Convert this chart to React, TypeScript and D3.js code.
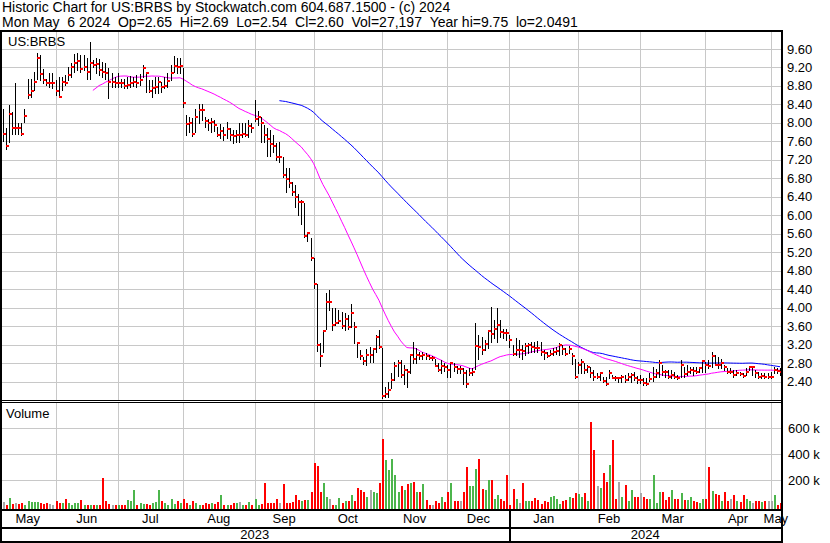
import React from "react";
import * as d3 from "d3";

const HEADER1 = "Historic Chart for US:BRBS by Stockwatch.com 604.687.1500 - (c) 2024";
const HEADER2 = "Mon May  6 2024  Op=2.65  Hi=2.69  Lo=2.54  Cl=2.60  Vol=27,197  Year hi=9.75  lo=2.0491";
const SYMBOL = "US:BRBS";
const VOLUME_TITLE = "Volume";

// daily closes, 8 May 2023 .. 6 May 2024
const close = [
  7.76, 7.51, 8.20, 7.89, 7.89, 7.88, 7.77, 8.16, 8.61, 8.70,
  8.88, 9.40, 9.05, 8.93, 8.86, 8.86, 8.86, 8.69, 8.57, 8.89,
  8.87, 9.03, 9.20, 9.29, 9.35, 9.17, 9.20, 9.11, 9.29, 9.25,
  9.27, 9.14, 9.11, 9.07, 8.88, 8.88, 8.86, 8.87, 8.86, 8.80,
  8.83, 8.86, 8.88, 8.87, 8.93, 9.19, 9.09, 8.69, 8.75, 8.78,
  8.89, 8.78, 8.80, 8.91, 9.09, 9.24, 9.22, 9.24, 8.44, 7.97,
  8.00, 7.76, 8.13, 8.28, 8.27, 8.05, 8.00, 8.03, 7.95, 7.74,
  7.83, 7.74, 7.87, 7.74, 7.72, 7.74, 7.74, 7.76, 7.74, 7.94,
  7.90, 8.08, 8.12, 8.00, 7.74, 7.66, 7.54, 7.49, 7.27, 7.27,
  6.87, 6.79, 6.71, 6.51, 6.40, 6.28, 6.29, 5.55, 5.61, 5.07,
  4.51, 3.20, 2.95, 3.50, 4.13, 4.13, 3.62, 3.66, 3.72, 3.60,
  3.76, 3.59, 3.89, 3.59, 3.24, 2.95, 2.85, 2.98, 2.98, 3.10,
  3.37, 3.15, 2.09, 2.13, 2.22, 2.44, 2.74, 2.80, 2.54, 2.65,
  2.60, 2.98, 2.90, 2.98, 2.95, 2.98, 2.95, 2.92, 2.92, 2.74,
  2.65, 2.74, 2.72, 2.65, 2.80, 2.72, 2.68, 2.68, 2.58, 2.35,
  2.59, 2.62, 3.17, 3.16, 3.08, 3.21, 3.50, 3.43, 3.53, 3.63,
  3.47, 3.46, 3.45, 3.31, 3.01, 3.08, 3.08, 3.07, 3.17, 3.19,
  3.16, 3.14, 3.12, 3.05, 3.03, 2.95, 2.99, 3.04, 3.07, 3.19,
  3.10, 3.01, 3.10, 2.95, 2.51, 2.77, 2.83, 2.65, 2.71, 2.58,
  2.51, 2.51, 2.58, 2.42, 2.35, 2.58, 2.48, 2.47, 2.47, 2.50,
  2.43, 2.51, 2.54, 2.47, 2.43, 2.43, 2.38, 2.36, 2.45, 2.51,
  2.58, 2.80, 2.62, 2.60, 2.51, 2.55, 2.51, 2.48, 2.76, 2.56,
  2.62, 2.65, 2.64, 2.62, 2.69, 2.85, 2.77, 2.74, 2.96, 2.77,
  2.76, 2.80, 2.71, 2.62, 2.62, 2.54, 2.58, 2.56, 2.52, 2.62,
  2.71, 2.71, 2.58, 2.51, 2.53, 2.51, 2.51, 2.51, 2.65, 2.63,
  2.60,
];

const high = [
  8.30, 7.90, 8.39, 8.24, 8.86, 7.99, 8.00, 8.30, 8.94, 8.96,
  9.11, 9.51, 9.47, 9.16, 8.96, 9.09, 9.09, 8.93, 9.00, 9.00,
  9.04, 9.22, 9.29, 9.49, 9.51, 9.47, 9.47, 9.40, 9.76, 9.36,
  9.40, 9.38, 9.31, 9.29, 9.18, 9.07, 9.00, 9.07, 8.96, 8.95,
  9.00, 9.02, 9.00, 9.04, 9.05, 9.25, 9.11, 8.93, 8.93, 9.00,
  9.00, 8.89, 9.00, 9.07, 9.25, 9.45, 9.40, 9.40, 9.18, 8.17,
  8.13, 8.10, 8.31, 8.42, 8.41, 8.13, 8.08, 8.10, 8.06, 7.92,
  7.97, 7.92, 8.03, 7.88, 7.85, 7.85, 8.00, 8.00, 8.00, 8.06,
  7.99, 8.50, 8.26, 8.13, 7.95, 7.88, 7.85, 7.74, 7.56, 7.59,
  7.27, 7.02, 7.02, 6.73, 6.66, 6.47, 6.33, 6.26, 5.65, 5.50,
  5.07, 4.51, 3.23, 3.52, 4.31, 4.38, 3.99, 3.99, 3.95, 3.91,
  3.89, 3.84, 4.09, 3.69, 3.26, 3.08, 2.94, 3.10, 3.15, 3.14,
  3.41, 3.52, 3.12, 2.29, 2.40, 2.58, 2.83, 2.87, 2.88, 2.76,
  2.68, 3.01, 3.25, 3.12, 3.05, 3.05, 3.03, 2.97, 2.95, 2.90,
  2.80, 2.87, 2.80, 2.77, 2.83, 2.80, 2.74, 2.74, 2.69, 2.65,
  2.70, 2.70, 3.66, 3.41, 3.37, 3.30, 3.52, 4.02, 3.73, 4.00,
  3.73, 3.55, 3.55, 3.41, 3.19, 3.34, 3.30, 3.19, 3.23, 3.23,
  3.26, 3.26, 3.28, 3.26, 3.08, 3.05, 3.08, 3.12, 3.15, 3.23,
  3.19, 3.12, 3.17, 3.03, 2.90, 2.83, 2.90, 2.80, 2.76, 2.71,
  2.65, 2.59, 2.62, 2.51, 2.51, 2.65, 2.54, 2.52, 2.51, 2.54,
  2.54, 2.58, 2.58, 2.62, 2.52, 2.54, 2.48, 2.48, 2.58, 2.72,
  2.68, 2.88, 2.76, 2.65, 2.65, 2.65, 2.62, 2.54, 2.88, 2.72,
  2.76, 2.72, 2.72, 2.72, 2.72, 2.87, 2.83, 2.87, 3.05, 2.98,
  2.94, 2.90, 2.76, 2.69, 2.69, 2.65, 2.65, 2.62, 2.58, 2.69,
  2.72, 2.72, 2.65, 2.62, 2.58, 2.58, 2.58, 2.62, 2.72, 2.69,
  2.69,
];

const low = [
  7.60, 7.43, 7.59, 7.77, 7.77, 7.77, 7.74, 8.03, 8.53, 8.57,
  8.71, 8.96, 8.93, 8.86, 8.82, 8.78, 8.75, 8.60, 8.57, 8.71,
  8.82, 8.93, 9.00, 9.11, 9.14, 9.11, 9.14, 8.94, 8.94, 9.22,
  9.07, 9.04, 9.00, 8.96, 8.55, 8.78, 8.77, 8.77, 8.78, 8.76,
  8.75, 8.77, 8.80, 8.77, 8.82, 9.00, 8.68, 8.66, 8.57, 8.64,
  8.64, 8.68, 8.75, 8.78, 8.93, 9.11, 9.07, 9.09, 8.35, 7.74,
  7.81, 7.72, 7.81, 7.99, 8.06, 7.92, 7.85, 7.81, 7.83, 7.72,
  7.67, 7.63, 7.67, 7.63, 7.57, 7.59, 7.59, 7.70, 7.72, 7.70,
  7.81, 8.04, 7.95, 7.59, 7.59, 7.28, 7.28, 7.38, 7.20, 7.16,
  6.84, 6.51, 6.62, 6.44, 6.19, 6.00, 5.82, 5.53, 5.45, 5.03,
  4.42, 3.07, 2.75, 3.05, 3.55, 3.95, 3.52, 3.62, 3.66, 3.56,
  3.52, 3.55, 3.59, 3.23, 2.94, 2.90, 2.79, 2.76, 2.83, 2.83,
  3.05, 3.14, 2.05, 2.07, 2.07, 2.26, 2.44, 2.52, 2.50, 2.36,
  2.28, 2.58, 2.80, 2.80, 2.90, 2.90, 2.90, 2.90, 2.87, 2.73,
  2.63, 2.58, 2.63, 2.50, 2.50, 2.63, 2.59, 2.59, 2.36, 2.29,
  2.54, 2.55, 2.68, 2.90, 3.01, 3.08, 3.12, 3.26, 3.34, 3.26,
  3.37, 3.34, 3.30, 3.16, 2.98, 2.98, 2.94, 2.90, 2.98, 3.02,
  3.05, 3.05, 3.05, 2.98, 2.90, 2.94, 2.97, 2.97, 3.01, 2.98,
  3.01, 2.98, 3.03, 2.79, 2.47, 2.58, 2.58, 2.58, 2.62, 2.51,
  2.44, 2.47, 2.44, 2.39, 2.32, 2.47, 2.47, 2.43, 2.40, 2.40,
  2.40, 2.44, 2.40, 2.44, 2.38, 2.37, 2.33, 2.33, 2.41, 2.41,
  2.50, 2.50, 2.54, 2.51, 2.47, 2.47, 2.47, 2.45, 2.51, 2.51,
  2.54, 2.58, 2.54, 2.58, 2.62, 2.62, 2.62, 2.69, 2.72, 2.76,
  2.69, 2.69, 2.65, 2.58, 2.58, 2.51, 2.54, 2.54, 2.51, 2.54,
  2.65, 2.54, 2.51, 2.47, 2.47, 2.47, 2.47, 2.47, 2.58, 2.58,
  2.54,
];

// daily volume in thousands of shares
const volumeK = [
  35, 15, 65, 20, 25, 20, 30, 12, 40, 35,
  35, 35, 30, 20, 30, 20, 10, 45, 25, 25,
  60, 30, 10, 25, 30, 50, 10, 10, 12, 10,
  12, 15, 215, 40, 20, 12, 10, 15, 8, 10,
  50, 40, 125, 15, 25, 20, 20, 12, 30, 35,
  130, 40, 25, 10, 60, 20, 45, 25, 60, 30,
  10, 45, 25, 15, 10, 25, 20, 30, 20, 35,
  85, 10, 12, 10, 25, 30, 35, 10, 15, 35,
  10, 55, 15, 20, 180, 25, 25, 25, 60, 30,
  170, 25, 25, 35, 85, 50, 40, 50, 50, 110,
  330, 310, 110, 180, 70, 60, 15, 15, 65, 30,
  45, 40, 85, 45, 140, 125, 115, 70, 130, 115,
  100, 180, 520, 360, 280, 365, 240, 115, 155, 125,
  170, 180, 190, 110, 115, 175, 50, 15, 10, 40,
  30, 70, 35, 115, 180, 45, 40, 45, 115, 300,
  155, 155, 290, 365, 135, 125, 205, 200, 60, 90,
  55, 45, 240, 15, 135, 60, 30, 180, 45, 45,
  45, 65, 50, 20, 45, 35, 70, 80, 60, 20,
  45, 50, 70, 65, 105, 95, 70, 105, 40, 650,
  435, 155, 140, 260, 190, 315, 510, 55, 190, 70,
  165, 45, 125, 70, 70, 100, 70, 60, 60, 240,
  30, 115, 115, 50, 70, 125, 60, 60, 105, 50,
  50, 70, 40, 35, 30, 60, 60, 300, 120, 95,
  85, 45, 110, 45, 60, 90, 45, 35, 90, 60,
  45, 25, 45, 45, 35, 45, 45, 45, 85, 15,
  27.197,
];

const priceTicks = [2.4, 2.8, 3.2, 3.6, 4.0, 4.4, 4.8, 5.2, 5.6, 6.0, 6.4, 6.8, 7.2, 7.6, 8.0, 8.4, 8.8, 9.2, 9.6];
const volumeTicks = [200, 400, 600];
const monthLabels = ["May", "Jun", "Jul", "Aug", "Sep", "Oct", "Nov", "Dec", "Jan", "Feb", "Mar", "Apr", "May"];
const monthStarts = [17, 37, 58, 81, 100, 122, 143, 163, 185, 205, 226, 247];
const yearLabels = ["2023", "2024"];
const yearStart = 163;
const MA_SHORT = 30;
const MA_LONG = 90;

const W = 830;
const H = 543;
const FONT = "'Liberation Sans', Arial, Helvetica, sans-serif";
const GRID = "#c8c8c8";

const keepSpaces = (s: string) => s.replace(/ /g, "\u00a0");

function sma(values: number[], n: number): (number | null)[] {
  return values.map((_, i) => (i < n - 1 ? null : (d3.mean(values.slice(i - n + 1, i + 1)) as number)));
}

export default function App() {
  const left = 1;
  const right = 781;
  const pTop = 31;
  const pBottom = 400;
  const vTop = 403;
  const vBottom = 509;

  const x = d3.scaleLinear().domain([0, close.length - 1]).range([2.7, 780]);
  const yP = d3.scaleLinear().domain([2.4, 9.6]).range([381.7, 49]);
  const yV = d3.scaleLinear().domain([0, 600]).range([506.5, 428.3]);
  const px = (i: number) => Math.round(x(i)) + 0.5;

  const maS = sma(close, MA_SHORT);
  const maL = sma(close, MA_LONG);
  const line = d3
    .line<number | null>()
    .defined((d) => d !== null)
    .x((_, i) => x(i))
    .y((d) => yP(d as number));

  const gridXs = monthStarts.map((m) => px(m));
  const bounds = [0, ...monthStarts.map((m) => x(m)), right];

  const volColor = (i: number) => {
    if (i === 0) return "#a8a8a8";
    const diff = close[i] - close[i - 1];
    if (Math.abs(diff) < 0.005) return "#a8a8a8";
    return diff > 0 ? "#4cb54c" : "#ff0000";
  };

  return (
    <svg
      width={W}
      height={H}
      viewBox={`0 0 ${W} ${H}`}
      style={{ position: "absolute", left: 0, top: 0, background: "#fff" }}
      fontFamily={FONT}
    >
      <rect x={0} y={0} width={W} height={H} fill="#fff" />
      {/* header */}
      <text x={2} y={11.5} fontSize={14} fill="#000">
        {keepSpaces(HEADER1)}
      </text>
      <text x={2} y={27} fontSize={14} fill="#000">
        {keepSpaces(HEADER2)}
      </text>

      {/* grid */}
      <g shapeRendering="crispEdges" stroke={GRID} strokeWidth={1}>
        {priceTicks.map((t) => (
          <line key={"pg" + t} x1={left} x2={right} y1={Math.round(yP(t)) + 0.5} y2={Math.round(yP(t)) + 0.5} />
        ))}
        {gridXs.map((gx, k) => (
          <line key={"pv" + k} x1={gx} x2={gx} y1={pTop} y2={pBottom} />
        ))}
        {volumeTicks.map((t) => (
          <line key={"vg" + t} x1={left} x2={right} y1={Math.round(yV(t)) + 0.5} y2={Math.round(yV(t)) + 0.5} />
        ))}
        {gridXs.map((gx, k) => (
          <line key={"vv" + k} x1={gx} x2={gx} y1={vTop} y2={vBottom} />
        ))}
      </g>

      {/* moving averages */}
      <path d={line(maL) || ""} fill="none" stroke="#0000ff" strokeWidth={1} />
      <path d={line(maS) || ""} fill="none" stroke="#ff00ff" strokeWidth={1} />

      {/* price bars */}
      <g shapeRendering="crispEdges">
        {close.map((c, i) => (
          <g key={"b" + i}>
            <line x1={px(i)} x2={px(i)} y1={yP(high[i])} y2={yP(low[i]) + 1} stroke="#000" strokeWidth={1} />
            <rect x={Math.round(x(i))} y={Math.round(yP(c)) - 1} width={3} height={2} fill="#ff0000" />
          </g>
        ))}
      </g>

      {/* volume bars */}
      <g shapeRendering="crispEdges">
        {volumeK.map((v, i) => (
          <rect
            key={"v" + i}
            x={Math.round(x(i)) - 0.5}
            y={yV(v)}
            width={2}
            height={Math.max(0, vBottom - yV(v))}
            fill={volColor(i)}
          />
        ))}
      </g>

      {/* panel labels */}
      <text x={8} y={46} fontSize={13} fill="#000">{SYMBOL}</text>
      <text x={6} y={418} fontSize={13} fill="#000">{VOLUME_TITLE}</text>

      {/* right axis labels */}
      {priceTicks.map((t) => (
        <text key={"pl" + t} x={787} y={yP(t) + 4.5} fontSize={13} fill="#000">
          {t.toFixed(2)}
        </text>
      ))}
      {volumeTicks.map((t) => (
        <text key={"vl" + t} x={788} y={yV(t) + 4.5} fontSize={13} fill="#000">
          {keepSpaces(t + " k")}
        </text>
      ))}

      {/* month & year labels */}
      {monthLabels.map((m, k) => (
        <text key={"m" + k} x={(bounds[k] + bounds[k + 1]) / 2} y={523} fontSize={13} textAnchor="middle" fill="#000">
          {m}
        </text>
      ))}
      {yearLabels.map((yl, k) => {
        const a = k === 0 ? 0 : x(yearStart);
        const b = k === 0 ? x(yearStart) : right;
        return (
          <text key={"y" + k} x={(a + b) / 2} y={539} fontSize={13} textAnchor="middle" fill="#000">
            {yl}
          </text>
        );
      })}

      {/* frame */}
      <g shapeRendering="crispEdges" fill="#000">
        <rect x={0} y={30} width={783} height={2} />
        <rect x={0} y={30} width={2} height={H - 30} />
        <rect x={781} y={30} width={2} height={H - 30} />
        <rect x={0} y={400} width={783} height={1} />
        <rect x={0} y={402} width={783} height={1} />
        <rect x={0} y={509} width={783} height={2} />
        <rect x={0} y={527} width={783} height={1.5} />
        <rect x={0} y={541} width={783} height={2} />
        <rect x={Math.round(x(yearStart))} y={511} width={1.5} height={30} />
      </g>
    </svg>
  );
}
